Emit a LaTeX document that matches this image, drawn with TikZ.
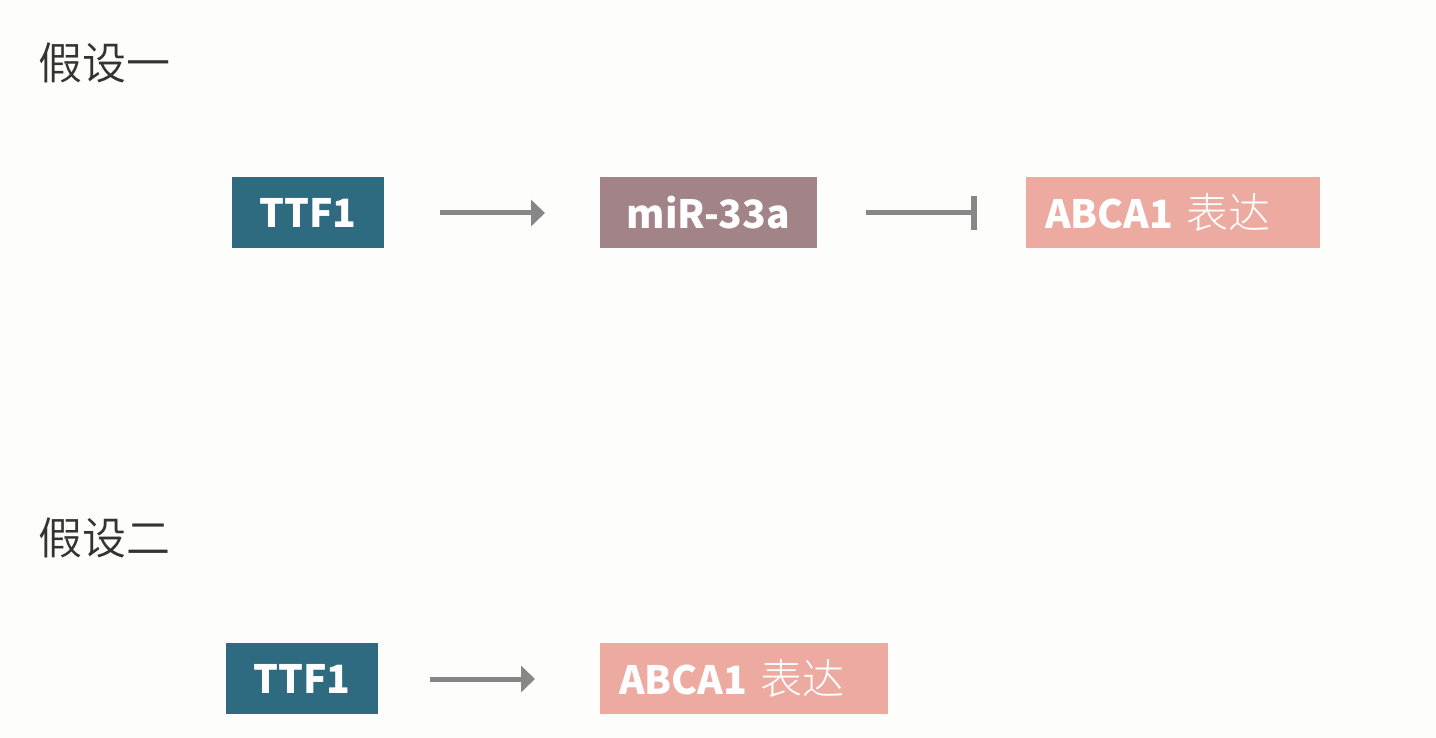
\documentclass[tikz,border=0pt]{standalone}
\usepackage{fontspec}
\newfontfamily\cjklight{Noto Sans CJK SC Light}
\newfontfamily\cjkbold{Noto Sans CJK SC Black}
\newfontfamily\cjkhead{Noto Sans CJK SC DemiLight}
\usetikzlibrary{arrows.meta}
\definecolor{bg}{HTML}{FDFDFB}
\definecolor{teal}{HTML}{2E6A80}
\definecolor{mauve}{HTML}{A28387}
\definecolor{salmon}{HTML}{ECAAA0}
\definecolor{arrowgray}{HTML}{878787}
\begin{document}
\begin{tikzpicture}[x=1pt,y=-1pt,
  box/.style={anchor=north west, inner sep=0pt, outer sep=0pt, text=white, font=\cjkbold\fontsize{39}{39}\selectfont},
  head/.style={anchor=west, inner sep=0pt, font=\cjkhead\fontsize{44}{44}\selectfont, text=black!80},
  act/.style={draw=arrowgray, line width=5pt, -{Triangle[length=14pt,width=26pt]}},
  inh/.style={draw=arrowgray, line width=5pt, -{Bar[width=34pt,line width=6pt]}}]
\fill[bg] (0,0) rectangle (1436,738);
\useasboundingbox (0,0) rectangle (1436,738);
\node[head] (h1) at (38,63) {假设一};
\node[head] (h2) at (38,538) {假设二};
\node[box, fill=teal, minimum width=152pt, minimum height=71pt] (t1) at (232,177) {TTF1};
\node[box, fill=mauve, minimum width=217pt, minimum height=71pt] (m1) at (600,177) {miR-33a};
\node[box, fill=salmon, minimum width=294pt, minimum height=71pt, text width=294pt, align=left] (a1) at (1026,177) {\hspace*{19pt}ABCA1 {\cjklight\fontsize{42}{42}\selectfont 表达}};
\node[box, fill=teal, minimum width=152pt, minimum height=71pt] (t2) at (226,643) {TTF1};
\node[box, fill=salmon, minimum width=288pt, minimum height=71pt, text width=288pt, align=left] (a2) at (600,643) {\hspace*{19pt}ABCA1 {\cjklight\fontsize{42}{42}\selectfont 表达}};
\coordinate (s1) at (440,213);
\coordinate (e1) at (545,213);
\coordinate (s2) at (866,213);
\coordinate (e2) at (977,213);
\coordinate (s3) at (430,679);
\coordinate (e3) at (535,679);
\draw[act] (s1) -- (e1);
\draw[inh] (s2) -- (e2);
\draw[act] (s3) -- (e3);
\end{tikzpicture}
\end{document}
